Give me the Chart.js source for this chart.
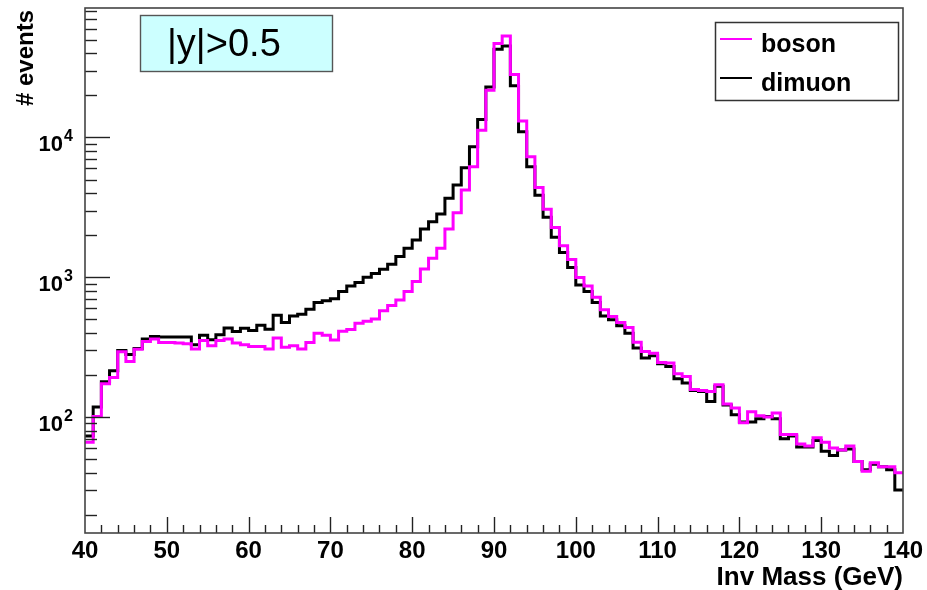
<!DOCTYPE html>
<html>
<head>
<meta charset="utf-8">
<script src="https://cdn.jsdelivr.net/npm/chart.js@4.4.1/dist/chart.umd.min.js"></script>
<style>
  html, body { margin: 0; padding: 0; background: #fff; }
  #chart { display: block; }
</style>
</head>
<body>
<canvas id="chart" width="927" height="590"></canvas>
<script>
// histogram: 100 bins of 1 GeV from 40 to 140
var xMin = 40, xMax = 140, binWidth = 1;
var yMin = 14.8, yMax = 84300;

var bosonCounts = [
  66, 101, 173, 192, 293, 249, 305, 347, 362, 341,
  341, 338, 334, 306, 352, 323, 352, 362, 338, 329,
  319, 319, 306, 368, 316, 323, 306, 341, 398, 385,
  355, 411, 422, 469, 485, 502, 575, 627, 688, 789,
  930, 1146, 1367, 1611, 2213, 2893, 4205, 6170, 11270, 21770,
  46900, 53200, 28200, 13100, 7260, 4380, 3060, 2270, 1682, 1340,
  994, 867, 720, 584, 524, 474, 437, 343, 294, 286,
  245, 243, 204, 195, 157, 155, 152, 170, 124, 116,
  91, 109, 102, 100, 107, 75, 75, 64, 62, 71,
  66, 60, 58, 62, 48, 41, 47, 44, 44, 40
];

var dimuonCounts = [
  73, 118, 179, 214, 299, 280, 309, 361, 376, 373,
  373, 373, 373, 329, 385, 357, 387, 434, 409, 432,
  416, 454, 425, 535, 474, 529, 544, 591, 659, 680,
  700, 789, 867, 915, 1000, 1062, 1140, 1240, 1404, 1611,
  1846, 2213, 2497, 2833, 3667, 4563, 6067, 8570, 13450, 22970,
  42700, 45100, 23380, 10970, 6170, 3850, 2680, 1935, 1505, 1175,
  881, 789, 659, 529, 496, 449, 398, 311, 264, 274,
  240, 230, 188, 175, 155, 152, 129, 166, 122, 104,
  92, 92, 97, 101, 97, 70, 73, 61, 61, 68,
  57, 53, 58, 59, 48, 42, 46, 44, 42, 30
];

var xTickLabels = [40, 50, 60, 70, 80, 90, 100, 110, 120, 130, 140];
var yDecades = [2, 3, 4];

var labelText = '|y|>0.5';
var xTitle = 'Inv Mass (GeV)';
var yTitle = '# events';

// points on bin low edges + closing point at the upper edge
function toSteps(counts) {
  var pts = counts.map(function(c, i) { return { x: xMin + i * binWidth, y: c }; });
  pts.push({ x: xMax, y: counts[counts.length - 1] });
  return pts;
}

var FONT = '"Liberation Sans", Arial, Helvetica, sans-serif';

function seg(ctx, x1, y1, x2, y2) {
  ctx.beginPath(); ctx.moveTo(x1, y1); ctx.lineTo(x2, y2); ctx.stroke();
}

// ROOT-style frame, inward ticks, labels, text box and legend
var rootStyle = {
  id: 'rootStyle',
  afterDraw: function(chart) {
    var ctx = chart.ctx, a = chart.chartArea;
    var xs = chart.scales.x, ys = chart.scales.y;
    ctx.save();

    // x ticks
    ctx.strokeStyle = '#222'; ctx.lineWidth = 1.4;
    for (var v = xMin + 2; v < xMax; v += 2) {
      var px = Math.round(xs.getPixelForValue(v)) + 0.5;
      seg(ctx, px, a.bottom, px, a.bottom - (v % 10 === 0 ? 16 : 8));
    }
    // y ticks (log)
    var lo = Math.floor(Math.log10(yMin)), hi = Math.ceil(Math.log10(yMax));
    for (var d = lo; d <= hi; d++) {
      for (var m = 1; m <= 9; m++) {
        var val = m * Math.pow(10, d);
        if (val <= yMin || val >= yMax) continue;
        var py = Math.round(ys.getPixelForValue(val)) + 0.5;
        seg(ctx, a.left, py, a.left + (m === 1 ? 25 : 12), py);
      }
    }

    // frame
    ctx.strokeStyle = '#444'; ctx.lineWidth = 1.6;
    ctx.strokeRect(a.left, a.top, a.right - a.left, a.bottom - a.top);

    // x labels
    ctx.fillStyle = '#000';
    ctx.font = 'bold 24px ' + FONT;
    ctx.textAlign = 'center'; ctx.textBaseline = 'alphabetic';
    xTickLabels.forEach(function(t) {
      ctx.fillText(String(t), xs.getPixelForValue(t), 558);
    });
    // y labels 10^n
    yDecades.forEach(function(n) {
      var py = ys.getPixelForValue(Math.pow(10, n));
      ctx.font = 'bold 22px ' + FONT;
      ctx.textAlign = 'right';
      ctx.fillText('10', 63, py + 14);
      ctx.font = 'bold 16px ' + FONT;
      ctx.textAlign = 'left';
      ctx.fillText(String(n), 64, py + 4);
    });

    // axis titles
    ctx.font = 'bold 26px ' + FONT;
    ctx.textAlign = 'right';
    ctx.fillText(xTitle, a.right, 585);
    ctx.font = 'bold 24px ' + FONT;
    ctx.save();
    ctx.translate(33, a.top + 2);
    ctx.rotate(-Math.PI / 2);
    ctx.textAlign = 'right';
    ctx.fillText(yTitle, 0, 0);
    ctx.restore();

    // |y| box
    ctx.fillStyle = '#ccffff';
    ctx.fillRect(140, 15, 192, 56);
    ctx.strokeStyle = '#555'; ctx.lineWidth = 1.4;
    ctx.strokeRect(140.5, 15.5, 192, 56);
    ctx.fillStyle = '#000';
    ctx.font = '38px ' + FONT;
    ctx.textAlign = 'left';
    ctx.fillText(labelText, 167, 56);

    // legend
    ctx.fillStyle = '#fff';
    ctx.fillRect(715, 22, 183, 78);
    ctx.strokeStyle = '#333'; ctx.lineWidth = 1.5;
    ctx.strokeRect(715.5, 22.5, 183, 78);
    ctx.font = 'bold 25px ' + FONT;
    chart.data.datasets.forEach(function(ds, i) {
      var ly = 39 + i * 39;
      ctx.strokeStyle = ds.borderColor; ctx.lineWidth = 2;
      seg(ctx, 720, ly, 752, ly);
      ctx.fillStyle = '#000';
      ctx.fillText(ds.label, 761, ly + 13);
    });

    ctx.restore();
  }
};

new Chart(document.getElementById('chart'), {
  type: 'line',
  data: {
    datasets: [
      { label: 'boson', data: toSteps(bosonCounts), borderColor: '#ff00ff',
        borderWidth: 3, stepped: 'before', pointRadius: 0, fill: false },
      { label: 'dimuon', data: toSteps(dimuonCounts), borderColor: '#000000',
        borderWidth: 3, stepped: 'before', pointRadius: 0, fill: false }
    ]
  },
  options: {
    responsive: false,
    animation: false,
    layout: { padding: { left: 85, top: 8, right: 24, bottom: 57 } },
    plugins: { legend: { display: false }, tooltip: { enabled: false } },
    scales: {
      x: { type: 'linear', min: xMin, max: xMax, display: false },
      y: { type: 'logarithmic', min: yMin, max: yMax, display: false }
    }
  },
  plugins: [rootStyle]
});
</script>
</body>
</html>
